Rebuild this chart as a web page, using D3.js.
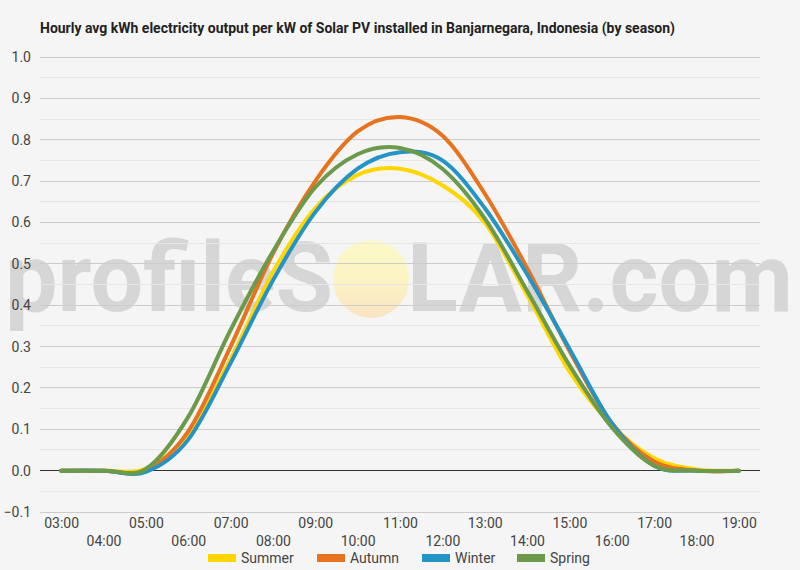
<!DOCTYPE html>
<html>
<head>
<meta charset="utf-8">
<script src="https://cdn.jsdelivr.net/npm/d3@7"></script>
<style>
  body { margin: 0; background: #f5f5f5; }
  #graph svg { display: block; font-family: Roboto, "Noto Sans", sans-serif; }
</style>
</head>
<body>
<div id="graph"></div>
<script>
// hours along the x axis
let hours = ["03:00", "04:00", "05:00", "06:00", "07:00", "08:00", "09:00", "10:00", "11:00",
  "12:00", "13:00", "14:00", "15:00", "16:00", "17:00", "18:00", "19:00"];

// avg kWh per kW, one value per hour
let summer = [0, 0, 0.005, 0.09, 0.27, 0.48, 0.635, 0.715, 0.73, 0.69, 0.6, 0.425, 0.24, 0.11, 0.03, 0.003, 0];
let autumn = [0, 0, 0, 0.095, 0.3, 0.525, 0.7, 0.82, 0.855, 0.81, 0.67, 0.49, 0.29, 0.115, 0.022, 0, 0];
let winter = [0, 0, -0.003, 0.075, 0.26, 0.46, 0.625, 0.73, 0.77, 0.75, 0.635, 0.475, 0.295, 0.115, 0.012, 0, 0];
let spring = [0, 0, 0.004, 0.13, 0.34, 0.53, 0.685, 0.765, 0.78, 0.73, 0.61, 0.435, 0.255, 0.105, 0.012, 0, 0];

let seasons = ["Summer", "Autumn", "Winter", "Spring"];
let seriesValues = [summer, autumn, winter, spring];
let seasonColors = ["#ffd600", "#e8731f", "#2493c6", "#6c9a4b"];

// y axis ticks
let yTicks = [-0.1, 0, 0.1, 0.2, 0.3, 0.4, 0.5, 0.6, 0.7, 0.8, 0.9, 1.0];
let yGrid = d3.range(-0.1, 1.0001, 0.05).map((v) => Math.round(v * 100) / 100);

let titleText = "Hourly avg kWh electricity output per kW of Solar PV installed in Banjarnegara, Indonesia (by season)";

let width = 800, height = 570;
let plot = { left: 40, right: 760, top: 57, bottom: 512 };

let svg = d3.select("#graph").append("svg")
  .attr("width", width)
  .attr("height", height);

svg.append("rect").attr("width", width).attr("height", height).attr("fill", "#f5f5f5");

// title
svg.append("text")
  .attr("x", 40)
  .attr("y", 33)
  .attr("font-size", "14px")
  .attr("font-weight", "bold")
  .attr("fill", "#222")
  .attr("textLength", 635)
  .attr("lengthAdjust", "spacingAndGlyphs")
  .text(titleText);

// watermark
let defs = svg.append("defs");
let grad = defs.append("linearGradient").attr("id", "sun").attr("x1", 0).attr("y1", 0).attr("x2", 0).attr("y2", 1);
grad.append("stop").attr("offset", "0%").attr("stop-color", "#fbf8c6");
grad.append("stop").attr("offset", "55%").attr("stop-color", "#fbf3c4");
grad.append("stop").attr("offset", "100%").attr("stop-color", "#fbe3c2");

let wm = svg.append("g").attr("class", "watermark");
wm.append("text")
  .attr("x", 5).attr("y", 311)
  .attr("font-size", "96px").attr("font-weight", "bold")
  .attr("fill", "#d6d6d6")
  .attr("textLength", 328).attr("lengthAdjust", "spacingAndGlyphs")
  .text("profileS");
wm.append("ellipse")
  .attr("cx", 371).attr("cy", 279).attr("rx", 38).attr("ry", 39)
  .attr("fill", "url(#sun)");
wm.append("text")
  .attr("x", 407).attr("y", 311)
  .attr("font-size", "96px").attr("font-weight", "bold")
  .attr("fill", "#d6d6d6")
  .attr("textLength", 386).attr("lengthAdjust", "spacingAndGlyphs")
  .text("LAR.com");

// scales
let x = d3.scalePoint().domain(hours).range([plot.left, plot.right]).padding(0.5);
let y = d3.scaleLinear().domain([-0.1, 1.0]).range([plot.bottom, plot.top]);

// gridlines, major every 0.1 and minor every 0.05
svg.append("g")
  .selectAll("line")
  .data(yGrid)
  .enter()
  .append("line")
  .attr("x1", plot.left)
  .attr("x2", plot.right)
  .attr("y1", (d) => y(d))
  .attr("y2", (d) => y(d))
  .attr("stroke", (d) => {
    if (d === 0) return "#333";
    return Math.round(d * 100) % 10 === 0 ? "#cccccc" : "#e6e6e6";
  })
  .attr("stroke-width", 1)
  .attr("shape-rendering", "crispEdges");

// y axis labels
let yAxis = svg.append("g")
  .attr("transform", "translate(" + plot.left + ",0)")
  .call(d3.axisLeft(y).tickValues(yTicks).tickSize(0).tickPadding(9).tickFormat(d3.format(".1f")));
yAxis.select(".domain").remove();
yAxis.selectAll("text").attr("font-size", "14px").attr("fill", "#444").attr("font-family", "Roboto, sans-serif");

// x axis labels, staggered over two rows
let xAxis = svg.append("g")
  .attr("transform", "translate(0," + plot.bottom + ")")
  .call(d3.axisBottom(x).tickSize(0).tickPadding(0));
xAxis.select(".domain").remove();
xAxis.selectAll("text")
  .attr("font-size", "14px")
  .attr("fill", "#444")
  .attr("font-family", "Roboto, sans-serif")
  .attr("dy", null)
  .attr("y", (d, i) => (i % 2 === 0 ? 16 : 34));

// lines
let line = d3.line()
  .x((d, i) => x(hours[i]))
  .y((d) => y(d))
  .curve(d3.curveCatmullRom.alpha(0));

svg.append("g")
  .selectAll("path")
  .data(seriesValues)
  .enter()
  .append("path")
  .attr("d", (d) => line(d))
  .attr("fill", "none")
  .attr("stroke", (d, i) => seasonColors[i])
  .attr("stroke-width", 4)
  .attr("stroke-linejoin", "round")
  .attr("stroke-linecap", "round");

// legend
let legendX = [208, 317, 422, 517];
let legend = svg.append("g")
  .selectAll("g")
  .data(seasons)
  .enter()
  .append("g")
  .attr("transform", (d, i) => "translate(" + legendX[i] + ",558)");
legend.append("rect")
  .attr("x", 0).attr("y", -4)
  .attr("width", 28).attr("height", 8)
  .attr("fill", (d, i) => seasonColors[i]);
legend.append("text")
  .attr("x", 33).attr("y", 5)
  .attr("font-size", "14px")
  .attr("fill", "#444")
  .text((d) => d);
</script>
</body>
</html>
